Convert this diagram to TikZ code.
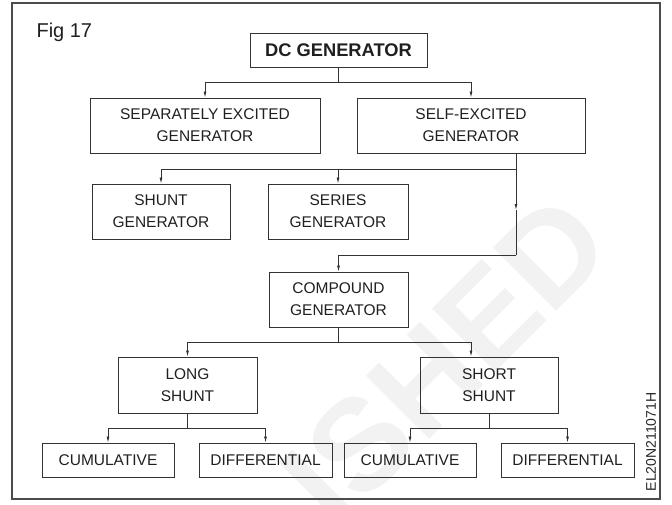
\documentclass[tikz,border=0pt]{standalone}
\usepackage{fontspec}
\setmainfont{Liberation Sans}
\usetikzlibrary{arrows.meta}

\tikzset{
    block/.style={draw=black!80, line width=0.9pt, align=center, inner sep=0pt,
        text=black!88, font=\fontsize{15.5}{22}\selectfont},
    link/.style={draw=black!80, line width=0.8pt},
    tip/.style={link, -{Latex[length=6pt,width=3pt]}}
}

\begin{document}
\begin{tikzpicture}[x=1pt, y=-1pt]
    \useasboundingbox (0,0) rectangle (672,504);
    % Watermark:
    \node[rotate=45, text=black!5, font=\bfseries\fontsize{130}{130}\selectfont] (mark) at (445,360) {ISHED};
    % Frame:
    \draw[draw=black!70, line width=1.4pt] (12,3) rectangle (660,499);
    % Definitions:
    \node[block, font=\bfseries\fontsize{18.3}{20}\selectfont, minimum width=177pt, minimum height=34pt] (dc) at (338.5,50) {DC GENERATOR};
    \node[block, minimum width=230pt, minimum height=55pt] (sep) at (205,125.5) {SEPARATELY EXCITED\\GENERATOR};
    \node[block, minimum width=228pt, minimum height=55pt] (self) at (471,125.5) {SELF-EXCITED\\GENERATOR};
    \node[block, minimum width=138pt, minimum height=55pt] (shunt) at (161,211.5) {SHUNT\\GENERATOR};
    \node[block, minimum width=140pt, minimum height=55pt] (series) at (338,211.5) {SERIES\\GENERATOR};
    \node[block, minimum width=139pt, minimum height=55pt] (compound) at (338.5,299.5) {COMPOUND\\GENERATOR};
    \node[block, minimum width=139pt, minimum height=56pt] (long) at (187.5,385) {LONG\\SHUNT};
    \node[block, minimum width=138pt, minimum height=56pt] (short) at (489,385) {SHORT\\SHUNT};
    \node[block, minimum width=132pt, minimum height=34pt] (cum1) at (108,460) {CUMULATIVE};
    \node[block, minimum width=133pt, minimum height=34pt] (diff1) at (265.5,460) {DIFFERENTIAL};
    \node[block, minimum width=132pt, minimum height=34pt] (cum2) at (410,460) {CUMULATIVE};
    \node[block, minimum width=133pt, minimum height=34pt] (diff2) at (567.5,460) {DIFFERENTIAL};
    \coordinate (top) at (338.5,82);
    \coordinate (split) at (516,169);
    \coordinate (mid) at (516,210);
    \coordinate (bend) at (516,255);
    \coordinate (fork) at (338.5,342);
    \coordinate (lfork) at (187.5,428);
    \coordinate (sfork) at (489,428);
    % Drawing:
    \draw[link] (dc.south) -- (top);
    \draw[tip] (top) -| (sep.north);
    \draw[tip] (top) -| (self.north);
    \draw[link] (self.south -| split) -- (split);
    \draw[tip] (split) -| (shunt.north);
    \draw[tip] (split) -| (series.north);
    \draw[tip] (split) -- (mid);
    \draw[link] (mid) -- (bend);
    \draw[tip] (bend) -| (compound.north);
    \draw[link] (compound.south) -- (fork);
    \draw[tip] (fork) -| (long.north);
    \draw[tip] (fork) -| ([xshift=-18pt]short.north);
    \draw[link] (long.south) -- (lfork);
    \draw[tip] (lfork) -| (cum1.north);
    \draw[tip] (lfork) -| (diff1.north);
    \draw[link] (short.south) -- (sfork);
    \draw[tip] (sfork) -| (cum2.north);
    \draw[tip] (sfork) -| (diff2.north);
    % Labels:
    \node[anchor=base west, text=black!88, font=\fontsize{20}{20}\selectfont] (fig) at (33,37) {Fig 17};
    \node[rotate=90, text=black!85, font=\fontsize{14}{14}\selectfont] (code) at (651,442) {EL20N211071H};
\end{tikzpicture}
\end{document}
